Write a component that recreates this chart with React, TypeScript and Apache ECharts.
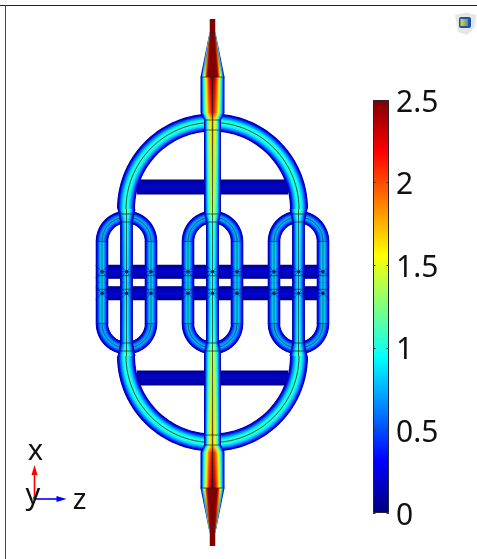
import React, { useEffect, useRef } from "react";
import * as echarts from "echarts";

// Legend scale
const scaleMin = 0;
const scaleMax = 2.5;
const scaleStep = 0.5;
const jetColors = ["#00007f", "#0000ff", "#00ffff", "#ffff00", "#ff0000", "#7f0000"];
const jetStops = [0, 0.125, 0.375, 0.625, 0.875, 1];

// Upper half of the device; the lower half is its mirror image. Coordinates (z, x) from the device centre.
// Straight channels: z0, x0, z1, x1, half width 0, half width 1, peak value 0, peak value 1
const crossBars = [
  [-75.5, 95.5, -7.5, 95.5, 7.5, 7.5, 0.22, 0.22],
  [7.5, 95.5, 75.5, 95.5, 7.5, 7.5, 0.22, 0.22],
  [-110, 10.8, 110, 10.8, 7, 7, 0.22, 0.22],
];
const straightChannels = [
  [-110.5, 41, -110.5, 0, 6.3, 6.3, 0.88, 0.88],
  [-61.5, 41, -61.5, 0, 6.3, 6.3, 0.88, 0.88],
  [-24.5, 41, -24.5, 0, 6.3, 6.3, 0.88, 0.88],
  [24.5, 41, 24.5, 0, 6.3, 6.3, 0.88, 0.88],
  [61.5, 41, 61.5, 0, 6.3, 6.3, 0.88, 0.88],
  [110.5, 41, 110.5, 0, 6.3, 6.3, 0.88, 0.88],
  [-86, 73.5, -86, 60.5, 9, 6.4, 1.25, 1.0],
  [-86, 60.5, -86, 0, 6.4, 6.4, 1.0, 0.92],
  [86, 73.5, 86, 60.5, 9, 6.4, 1.25, 1.0],
  [86, 60.5, 86, 0, 6.4, 6.4, 1.0, 0.92],
  [0, 0, 0, 60.5, 6.5, 6.5, 1.05, 1.2],
  [0, 60.5, 0, 69.5, 6.5, 8.5, 1.25, 1.45],
  [0, 69.5, 0, 162.5, 8.5, 8.5, 1.45, 1.8],
  [0, 162.5, 0, 169.5, 8.5, 12, 1.8, 2.15],
  [0, 169.5, 0, 205.5, 12, 12, 2.2, 2.5],
  [0, 205.5, 0, 250, 12, 3, 3.2, 7],
  [0, 250, 0, 263.5, 2.8, 2.8, 9, 9],
];
// Arc channels: centre z, centre x, radius, start angle, end angle, width, peak value
const arcChannels = [
  [-86, 41, 24.5, 0, 180, 12.5, 0.78],
  [0, 41, 24.5, 0, 180, 12.5, 0.78],
  [86, 41, 24.5, 0, 180, 12.5, 0.78],
  [0, 73.5, 86.5, 0, 180, 18, 1.08],
];
// Geometry edges drawn as thin lines: z0, x0, z1, x1
const edgeLines = [
  [-3, 249.5, 3, 249.5],
  [0, 205.5, 0, 0],
  [-12, 205.5, 12, 205.5],
  [-8.5, 162.5, 8.5, 162.5],
  [-8.5, 152.5, 8.5, 152.5],
  [-75.5, 95.5, -7.5, 95.5],
  [7.5, 95.5, 75.5, 95.5],
  [-110, 10.8, 110, 10.8],
  [-94, 68.5, -78, 68.5],
  [-8, 68.5, 8, 68.5],
  [78, 68.5, 94, 68.5],
  [-92, 60.5, -80, 60.5],
  [-6.3, 60.5, 6.3, 60.5],
  [80, 60.5, 92, 60.5],
  [-116.7, 41, -104.3, 41],
  [-67.7, 41, -55.3, 41],
  [-30.7, 41, -18.3, 41],
  [18.3, 41, 30.7, 41],
  [55.3, 41, 67.7, 41],
  [104.3, 41, 116.7, 41],
  [-116.7, 6.8, -104.3, 6.8],
  [-92, 6.8, -80, 6.8],
  [-67.7, 6.8, -55.3, 6.8],
  [-30.7, 6.8, -18.3, 6.8],
  [-6.3, 6.8, 6.3, 6.8],
  [18.3, 6.8, 30.7, 6.8],
  [55.3, 6.8, 67.7, 6.8],
  [80, 6.8, 92, 6.8],
  [104.3, 6.8, 116.7, 6.8],
  [-86, 73.5, -86, 0],
  [86, 73.5, 86, 0],
  [-110.5, 41, -110.5, 0],
  [-61.5, 41, -61.5, 0],
  [-24.5, 41, -24.5, 0],
  [24.5, 41, 24.5, 0],
  [61.5, 41, 61.5, 0],
  [110.5, 41, 110.5, 0],
];
// Column/bar crossings: z, x
const crossings = [-110.5, -86, -61.5, -24.5, 0, 24.5, 61.5, 86, 110.5].map((z) => [z, 10.8]);

const mirrorStraight = (r: number[]) => [r[0], -r[1], r[2], -r[3], r[4], r[5], r[6], r[7]];
const mirrorArc = (r: number[]) => [r[0], -r[1], r[2], -r[4], -r[3], r[5], r[6]];
const allBars = [...crossBars, ...crossBars.map(mirrorStraight)];
const allStraights = [...straightChannels, ...straightChannels.map(mirrorStraight)];
const allArcs = [...arcChannels, ...arcChannels.map(mirrorArc)];
const allEdges = [...edgeLines, ...edgeLines.map((r) => [r[0], -r[1], r[2], -r[3]])];
const allCrossings = [...crossings, ...crossings.map((r) => [r[0], -r[1]])];

const BANDS = 16;

function hexToRgb(h: string) {
  return [1, 3, 5].map((i) => parseInt(h.slice(i, i + 2), 16));
}
function jet(value: number) {
  const t = Math.max(0, Math.min(1, (value - scaleMin) / (scaleMax - scaleMin)));
  let k = 0;
  while (k < jetStops.length - 2 && t > jetStops[k + 1]) k++;
  const a = hexToRgb(jetColors[k]);
  const b = hexToRgb(jetColors[k + 1]);
  const u = (t - jetStops[k]) / (jetStops[k + 1] - jetStops[k]);
  return `rgb(${a.map((c, i) => Math.round(c + (b[i] - c) * u)).join(",")})`;
}
const profile = (peak: number, f: number) => peak * (1 - Math.pow(f, 1.6));

function renderStraight(params: any, api: any, rows: number[][]) {
  const [z0, x0, z1, x1, w0, w1, p0, p1] = rows[params.dataIndex];
  const a = api.coord([z0, x0]);
  const b = api.coord([z1, x1]);
  const len = Math.hypot(b[0] - a[0], b[1] - a[1]);
  const nx = -(b[1] - a[1]) / len;
  const ny = (b[0] - a[0]) / len;
  const children: any[] = [];
  for (let i = 0; i < BANDS; i++) {
    const f = 1 - i / BANDS;
    const h0 = api.size([w0 * f, 0])[0];
    const h1 = api.size([w1 * f, 0])[0];
    const points = [
      [a[0] + nx * h0, a[1] + ny * h0],
      [b[0] + nx * h1, b[1] + ny * h1],
      [b[0] - nx * h1, b[1] - ny * h1],
      [a[0] - nx * h0, a[1] - ny * h0],
    ];
    const fVal = Math.max(0, f - 1 / BANDS / 2);
    const fill =
      p0 === p1
        ? jet(profile(p0, fVal))
        : {
            type: "linear",
            global: true,
            x: a[0],
            y: a[1],
            x2: b[0],
            y2: b[1],
            colorStops: [
              { offset: 0, color: jet(profile(p0, fVal)) },
              { offset: 1, color: jet(profile(p1, fVal)) },
            ],
          };
    children.push({ type: "polygon", shape: { points }, style: { fill, stroke: null } });
  }
  return { type: "group", children };
}

function arcPoints(api: any, cz: number, cx: number, r: number, s: number, e: number) {
  const pts: number[][] = [];
  const steps = Math.ceil(Math.abs(e - s) / 3);
  for (let i = 0; i <= steps; i++) {
    const th = ((s + ((e - s) * i) / steps) * Math.PI) / 180;
    pts.push(api.coord([cz + r * Math.cos(th), cx + r * Math.sin(th)]));
  }
  return pts;
}

function renderArc(params: any, api: any) {
  const [cz, cx, r, s, e, w, peak] = allArcs[params.dataIndex];
  const points = arcPoints(api, cz, cx, r, s, e);
  const children: any[] = [];
  for (let i = 0; i < BANDS; i++) {
    const f = 1 - i / BANDS;
    children.push({
      type: "polyline",
      shape: { points },
      style: {
        fill: null,
        stroke: jet(profile(peak, Math.max(0, f - 1 / BANDS / 2))),
        lineWidth: api.size([w * f, 0])[0],
        lineCap: "butt",
        lineJoin: "round",
      },
    });
  }
  children.push({
    type: "polyline",
    shape: { points },
    style: { fill: null, stroke: "#12303a", lineWidth: 0.8 },
  });
  return { type: "group", children };
}

function renderEdge(params: any, api: any) {
  const [z0, x0, z1, x1] = allEdges[params.dataIndex];
  const a = api.coord([z0, x0]);
  const b = api.coord([z1, x1]);
  return {
    type: "line",
    shape: { x1: a[0], y1: a[1], x2: b[0], y2: b[1] },
    style: { stroke: "#0d2230", lineWidth: 0.7 },
  };
}

function renderCrossing(params: any, api: any) {
  const [z, x] = allCrossings[params.dataIndex];
  const c = api.coord([z, x]);
  const d = api.size([6.5, 0])[0];
  const stroke = { stroke: "#101050", lineWidth: 0.6 };
  return {
    type: "group",
    children: [
      { type: "line", shape: { x1: c[0] - d, y1: c[1] - d, x2: c[0] + d, y2: c[1] + d }, style: stroke },
      { type: "line", shape: { x1: c[0] - d, y1: c[1] + d, x2: c[0] + d, y2: c[1] - d }, style: stroke },
      {
        type: "polygon",
        shape: {
          points: [
            [c[0] - 2, c[1]],
            [c[0], c[1] - 2],
            [c[0] + 2, c[1]],
            [c[0], c[1] + 2],
          ],
        },
        style: { fill: "#00007a" },
      },
    ],
  };
}

const FONT = "Noto Sans";

export default function App() {
  const ref = useRef<HTMLDivElement>(null);
  useEffect(() => {
    document.body.style.margin = "0";
    const chart = echarts.init(ref.current!, undefined, { renderer: "svg" });
    const custom = (data: number[][], renderItem: any) => ({
      type: "custom",
      coordinateSystem: "cartesian2d",
      xAxisIndex: 0,
      yAxisIndex: 0,
      clip: false,
      silent: true,
      data,
      renderItem,
    });
    const txt = (text: string, x: number, y: number) => ({
      type: "text",
      x,
      y,
      style: { text, fontFamily: FONT, fontSize: 29, fill: "#111", textAlign: "center", textVerticalAlign: "middle" },
    });
    chart.setOption({
      animation: false,
      backgroundColor: "#ffffff",
      grid: [
        { left: 0, top: 0, width: 477, height: 559 },
        { left: 373, top: 100, width: 16, height: 413 },
      ],
      xAxis: [
        { type: "value", gridIndex: 0, min: -212.5, max: 264.5, show: false },
        { type: "category", gridIndex: 1, data: ["scale"], show: false },
      ],
      yAxis: [
        { type: "value", gridIndex: 0, min: -276.5, max: 282.5, show: false },
        {
          type: "value",
          gridIndex: 1,
          min: scaleMin,
          max: scaleMax,
          interval: scaleStep,
          position: "right",
          z: 5,
          splitLine: { show: false },
          axisLine: { show: false },
          axisTick: { show: true, inside: true, length: 2.5, lineStyle: { color: "#333", width: 1 } },
          axisLabel: {
            margin: 7,
            color: "#111",
            fontFamily: FONT,
            fontSize: 30,
            formatter: (v: number) => String(v),
          },
        },
        {
          type: "value",
          gridIndex: 1,
          min: scaleMin,
          max: scaleMax,
          interval: scaleStep,
          position: "left",
          z: 5,
          splitLine: { show: false },
          axisLine: { show: false },
          axisTick: { show: true, inside: true, length: 2.5, lineStyle: { color: "#333", width: 1 } },
          axisLabel: { show: false },
        },
      ],
      series: [
        custom(allBars, (p: any, a: any) => renderStraight(p, a, allBars)),
        custom(allArcs, renderArc),
        custom(allStraights, (p: any, a: any) => renderStraight(p, a, allStraights)),
        custom(allEdges, renderEdge),
        custom(allCrossings, renderCrossing),
        {
          type: "bar",
          xAxisIndex: 1,
          yAxisIndex: 1,
          barWidth: "100%",
          silent: true,
          data: [scaleMax],
          itemStyle: {
            borderColor: "#223",
            borderWidth: 1,
            color: {
              type: "linear",
              x: 0,
              y: 1,
              x2: 0,
              y2: 0,
              colorStops: jetColors.map((color, i) => ({ offset: jetStops[i], color })),
            },
          },
        },
      ],
      graphic: [
        { type: "line", shape: { x1: 0, y1: 5.5, x2: 477, y2: 5.5 }, style: { stroke: "#222", lineWidth: 1 } },
        { type: "line", shape: { x1: 5.5, y1: 5, x2: 5.5, y2: 559 }, style: { stroke: "#444", lineWidth: 1 } },
        {
          type: "polygon",
          shape: { points: [[455, 15], [466, 12.5], [476, 15], [475, 27], [467, 35], [458, 32]] },
          style: { fill: "#e4e6ea" },
        },
        { type: "rect", shape: { x: 459, y: 17, width: 12, height: 11, r: 2 }, style: { fill: "#1a55a8" } },
        {
          type: "rect",
          shape: { x: 460.5, y: 19, width: 7.5, height: 7 },
          style: {
            fill: {
              type: "linear", x: 0, y: 0, x2: 1, y2: 0,
              colorStops: [{ offset: 0, color: "#e8d840" }, { offset: 1, color: "#5a90a0" }],
            },
          },
        },
        { type: "line", shape: { x1: 34.5, y1: 499, x2: 34.5, y2: 472 }, style: { stroke: "#f00", lineWidth: 1.6 } },
        { type: "polygon", shape: { points: [[34.5, 465], [37.5, 475], [31.5, 475]] }, style: { fill: "#f00" } },
        { type: "line", shape: { x1: 34.5, y1: 499, x2: 58, y2: 499 }, style: { stroke: "#00f", lineWidth: 1.6 } },
        { type: "polygon", shape: { points: [[66.5, 499], [56.5, 496], [56.5, 502]] }, style: { fill: "#00f" } },
        { type: "circle", shape: { cx: 34.5, cy: 498, r: 1.8 }, style: { fill: "#12b012" } },
        txt("x", 35.5, 448),
        txt("y", 33, 492),
        txt("z", 79.5, 497),
      ],
    });
    return () => chart.dispose();
  }, []);
  return <div ref={ref} style={{ width: 477, height: 559, filter: "blur(0.7px)" }} />;
}
